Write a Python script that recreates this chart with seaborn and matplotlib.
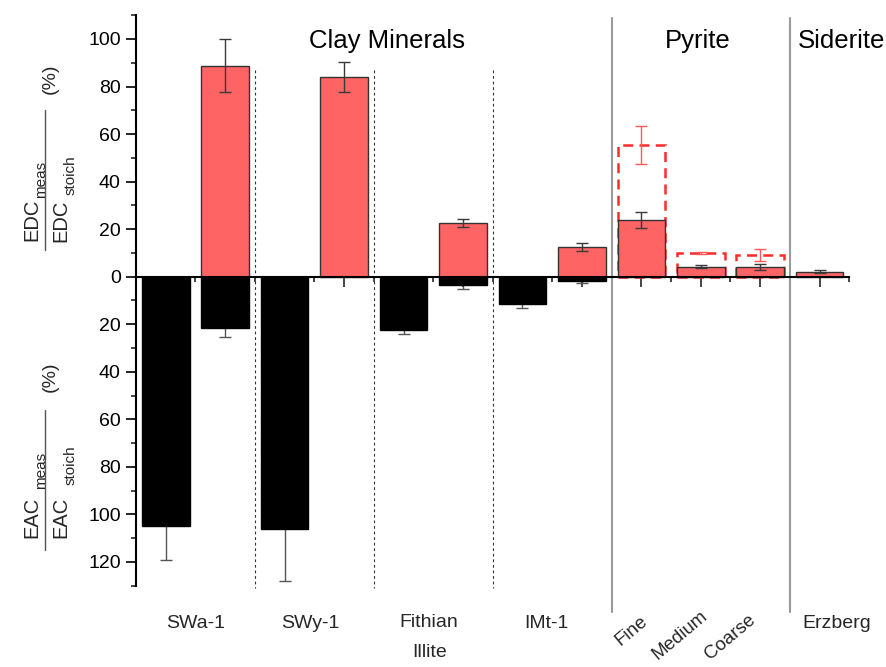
import numpy as np
import pandas as pd
import matplotlib
matplotlib.use("Agg")
import matplotlib.pyplot as plt
import seaborn as sns
from matplotlib.lines import Line2D
from matplotlib.ticker import MultipleLocator, FuncFormatter

# ---------------- data ----------------
categories = ["SWa-1 ox", "SWa-1 red", "SWy-1 ox", "SWy-1 red",
              "Fithian ox", "Fithian red", "IMt-1 ox", "IMt-1 red",
              "Fine", "Medium", "Coarse", "Erzberg"]
edc_values = [0, 88.8, 0, 84.1, 0, 22.5, 0, 12.5, 23.9, 4.2, 3.9, 2.0]
edc_errors = [0, 11.3, 0, 6.2, 0, 1.6, 0, 1.5, 3.5, 0.7, 1.3, 0.6]
eac_values = [104.7, 21.7, 106.1, 0, 22.4, 3.5, 11.6, 1.7, 0, 0, 0, 0]
eac_errors = [14.5, 3.8, 22.0, 0, 1.7, 1.5, 1.4, 0.8, 0, 0, 0, 0]
pyrite_categories = ["Fine", "Medium", "Coarse"]
pyrite_total = [55.4, 10.1, 9.1]
pyrite_total_err = [8.1, 0.4, 2.7]

group_titles = ["Clay Minerals", "Pyrite", "Siderite"]
group_title_x = [3.72, 8.95, 11.36]
sample_labels = ["SWa-1", "SWy-1", "Fithian\nIllite", "IMt-1", "Erzberg"]
sample_label_x = [0.5, 2.44, 4.42, 6.40, 11.28]
size_labels = ["Fine", "Medium", "Coarse"]
size_label_x = [7.84, 8.65, 9.49]
size_label_y = [-149.0, -150.8, -151.8]

RED = "#FF6464"
DASH_RED = "#FF2A2A"

# ---------------- figure ----------------
sns.set_style("ticks")
plt.rcParams["font.family"] = ["Liberation Sans", "DejaVu Sans"]
plt.rcParams["mathtext.default"] = "regular"

W, H = 887, 667
fig = plt.figure(figsize=(W / 100, H / 100), dpi=100)
ax = fig.add_axes([136 / W, 1 - 585.7 / H, 713.4 / W, (585.7 - 15.2) / H])

pos = {c: i for i, c in enumerate(categories)}

df_edc = pd.DataFrame({"cat": categories, "val": edc_values, "err": edc_errors})
df_edc = df_edc[df_edc["val"] > 0]
df_eac = pd.DataFrame({"cat": categories, "val": [-v for v in eac_values], "err": eac_errors})
df_eac = df_eac[df_eac["val"] < 0]
df_pyr = pd.DataFrame({"cat": pyrite_categories, "val": pyrite_total, "err": pyrite_total_err})

# dashed outline bars (pyrite total)
sns.barplot(data=df_pyr, x="cat", y="val", order=categories, fill=False,
            color=DASH_RED, linewidth=1.8, linestyle=(0, (4, 2.5)),
            width=0.8, errorbar=None, saturation=1, ax=ax, zorder=1)
# red EDC bars
sns.barplot(data=df_edc, x="cat", y="val", order=categories, color=RED,
            edgecolor="#333333", linewidth=1.0, width=0.8, errorbar=None,
            saturation=1, ax=ax, zorder=2)
# black EAC bars
sns.barplot(data=df_eac, x="cat", y="val", order=categories, color="black",
            edgecolor="black", linewidth=1.0, width=0.8, errorbar=None,
            saturation=1, ax=ax, zorder=2)

# error bars
ax.errorbar([pos[c] for c in df_edc["cat"]], df_edc["val"], yerr=df_edc["err"],
            fmt="none", ecolor="#3a3a3a", elinewidth=1, capsize=4, capthick=1, zorder=4)
ax.errorbar([pos[c] for c in df_eac["cat"]], df_eac["val"], yerr=df_eac["err"],
            fmt="none", ecolor="#555555", elinewidth=1, capsize=4, capthick=1, zorder=1.5)
ax.errorbar([pos[c] for c in df_pyr["cat"]], df_pyr["val"], yerr=df_pyr["err"],
            fmt="none", ecolor="#FF5A5A", elinewidth=1, capsize=4, capthick=1, zorder=4)

# separators
for xs in [1.5, 3.5, 5.5]:
    ax.plot([xs, xs], [87, -131], color="#333333", lw=0.8, ls=(0, (2.5, 2.5)),
            clip_on=False, zorder=0.8)
for xs in [7.5, 10.5]:
    ax.plot([xs, xs], [109, -141], color="#9a9a9a", lw=1.5, clip_on=False, zorder=0.8)

# axes styling
ax.set_xlim(-0.5, 11.5)
ax.set_ylim(-130, 110)
ax.spines["top"].set_visible(False)
ax.spines["right"].set_visible(False)
ax.spines["bottom"].set_position(("data", 0))
for s in ["left", "bottom"]:
    ax.spines[s].set_linewidth(1.5)
    ax.spines[s].set_color("black")
    ax.spines[s].set_zorder(3)

ax.yaxis.set_major_locator(MultipleLocator(20))
ax.yaxis.set_minor_locator(MultipleLocator(10))
ax.yaxis.set_major_formatter(FuncFormatter(lambda v, p: f"{abs(int(round(v)))}"))
ax.set_xticks(range(len(categories)))
ax.set_xticks(np.arange(-0.5, len(categories), 1.0), minor=True)
ax.set_xticklabels([])
ax.tick_params(axis="y", which="major", direction="out", length=7, width=1.2,
               labelsize=14, pad=4, colors="black")
ax.tick_params(axis="y", which="minor", direction="out", length=3.6, width=1.2)
ax.tick_params(axis="x", which="major", direction="out", length=7, width=1.2)
ax.tick_params(axis="x", which="minor", direction="out", length=3.6, width=1.2)
ax.set_xlabel("")
ax.set_ylabel("")

# group titles
for t, x in zip(group_titles, group_title_x):
    ax.text(x, 96.2, t, ha="center", va="baseline", fontsize=18.5, color="black")

# sample labels
for t, x in zip(sample_labels, sample_label_x):
    if "\n" in t:
        a, b = t.split("\n")
        ax.text(x, -147.2, a, ha="center", va="baseline", fontsize=14, clip_on=False)
        ax.text(x + 0.02, -160.2, b, ha="center", va="baseline", fontsize=14, clip_on=False)
    else:
        ax.text(x, -147.6, t, ha="center", va="baseline", fontsize=14, clip_on=False)
for t, x, y in zip(size_labels, size_label_x, size_label_y):
    ax.text(x, y, t, ha="center", va="center", rotation=40, fontsize=13.5, clip_on=False)

# y-axis fraction labels
def fp(x, y):
    return (x / W, 1 - y / H)

def frac_label(main, num_sub, den_sub, line_y0, line_y1, main_num_y, sub_num_y,
               main_den_y, sub_den_y, pct_y):
    fig.text(*fp(31.5, main_num_y), main, rotation=90, ha="center", va="center", fontsize=14.5)
    fig.text(*fp(41, sub_num_y), num_sub, rotation=90, ha="center", va="center", fontsize=11)
    fig.text(*fp(60.5, main_den_y), main, rotation=90, ha="center", va="center", fontsize=14.5)
    fig.text(*fp(70.5, sub_den_y), den_sub, rotation=90, ha="center", va="center", fontsize=11)
    fig.add_artist(Line2D([45 / W, 45 / W], [1 - line_y0 / H, 1 - line_y1 / H],
                          color="#555555", lw=1.0))
    fig.text(*fp(50, pct_y), "(%)", rotation=90, ha="center", va="center", fontsize=14)

frac_label("EDC", "meas", "stoich", 110, 250, 220, 179, 221, 175, 79)
frac_label("EAC", "meas", "stoich", 410, 550, 517, 470, 517, 465, 377)

fig.savefig("out.png", dpi=100)
